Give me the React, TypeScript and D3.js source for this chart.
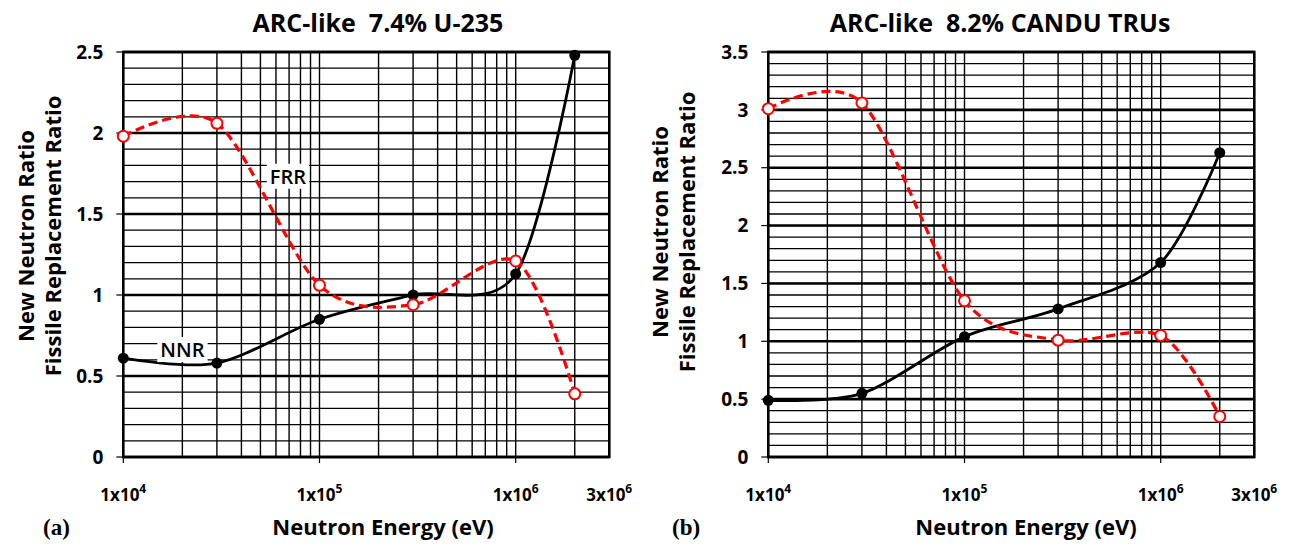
import React from "react";
import * as d3 from "d3";

// energies where the calculations were done (eV)
const energies = [1e4, 3e4, 1e5, 3e5, 1e6, 2e6];

// (a) ARC-like 7.4% U-235
const nnrU235 = [0.61, 0.58, 0.85, 1.0, 1.13, 2.48];
const frrU235 = [1.98, 2.06, 1.06, 0.94, 1.21, 0.39];

// (b) ARC-like 8.2% CANDU TRUs
const nnrTru = [0.49, 0.55, 1.04, 1.28, 1.68, 2.63];
const frrTru = [3.01, 3.06, 1.35, 1.01, 1.05, 0.35];

const xTickValues = [1e4, 1e5, 1e6, 3e6];
const xTickBases = ["1x10", "1x10", "1x10", "3x10"];
const xTickExps = ["4", "5", "6", "6"];

const yTicksU235 = [0, 0.5, 1, 1.5, 2, 2.5];
const yTicksTru = [0, 0.5, 1, 1.5, 2, 2.5, 3, 3.5];

const seriesLabels = ["FRR", "NNR"];
const labelEnergies = [6.9e4, 2e4];
const labelValues = [1.73, 0.66];

const FONT = "'Open Sans', 'Noto Sans', sans-serif";

function Panel({ title, nnr, frr, yTicks, tag, ox, titleX, xTitleX, yTitleY, yTitleX, tagX, showLabels }) {
    const ref = React.useRef(null);

    React.useEffect(() => {
        d3.select(ref.current).selectAll("*").remove();
        drawChart();
    });

    function drawChart() {
        const left = ox + 123.3;
        const right = ox + 609.3;
        const top = 52;
        const bottom = 457;
        const yMax = yTicks[yTicks.length - 1];

        const x = d3.scaleLog().domain([1e4, 3e6]).range([left, right]);
        const y = d3.scaleLinear().domain([0, yMax]).range([bottom, top]);

        const g = d3.select(ref.current);

        // minor grid
        g.selectAll("line.vgrid")
            .data(x.ticks())
            .enter()
            .append("line")
            .attr("x1", (d) => x(d))
            .attr("x2", (d) => x(d))
            .attr("y1", top)
            .attr("y2", bottom)
            .attr("stroke", "#000")
            .attr("stroke-width", 1.4);

        g.selectAll("line.hgrid")
            .data(y.ticks(Math.round(yMax * 10)))
            .enter()
            .append("line")
            .attr("x1", left)
            .attr("x2", right)
            .attr("y1", (d) => y(d))
            .attr("y2", (d) => y(d))
            .attr("stroke", "#000")
            .attr("stroke-width", 1.3);

        // major horizontal grid
        g.selectAll("line.hmajor")
            .data(yTicks)
            .enter()
            .append("line")
            .attr("x1", left)
            .attr("x2", right)
            .attr("y1", (d) => y(d))
            .attr("y2", (d) => y(d))
            .attr("stroke", "#000")
            .attr("stroke-width", 2.6);

        // frame
        g.append("rect")
            .attr("x", left)
            .attr("y", top)
            .attr("width", right - left)
            .attr("height", bottom - top)
            .attr("fill", "none")
            .attr("stroke", "#000")
            .attr("stroke-width", 2.6);

        // ticks
        g.selectAll("line.ytick")
            .data(yTicks)
            .enter()
            .append("line")
            .attr("x1", left - 7)
            .attr("x2", left)
            .attr("y1", (d) => y(d))
            .attr("y2", (d) => y(d))
            .attr("stroke", "#000")
            .attr("stroke-width", 1.2);

        g.selectAll("line.xtick")
            .data(xTickValues.slice(0, 3))
            .enter()
            .append("line")
            .attr("x1", (d) => x(d))
            .attr("x2", (d) => x(d))
            .attr("y1", bottom)
            .attr("y2", bottom + 6)
            .attr("stroke", "#000")
            .attr("stroke-width", 1.2);

        g.selectAll("text.ylab")
            .data(yTicks)
            .enter()
            .append("text")
            .attr("x", left - 20)
            .attr("y", (d) => y(d))
            .attr("dy", "0.35em")
            .attr("text-anchor", "end")
            .attr("font-family", FONT)
            .attr("font-weight", 700)
            .attr("font-size", 19)
            .text((d) => String(d));

        const xl = g
            .selectAll("text.xlab")
            .data(xTickValues)
            .enter()
            .append("text")
            .attr("x", (d) => x(d))
            .attr("y", 501)
            .attr("text-anchor", "middle")
            .attr("font-family", FONT)
            .attr("font-weight", 700)
            .attr("font-size", 17);
        xl.append("tspan").text((d, i) => xTickBases[i]);
        xl.append("tspan")
            .attr("dy", -8)
            .attr("font-size", 12)
            .text((d, i) => xTickExps[i]);

        // curves
        const pts = (vals) => energies.map((e, i) => [x(e), y(vals[i])]);
        const line = d3.line().curve(d3.curveCardinal.tension(0.1));

        g.append("path")
            .attr("d", line(pts(nnr)))
            .attr("fill", "none")
            .attr("stroke", "#000")
            .attr("stroke-width", 2.8);

        g.append("path")
            .attr("d", line(pts(frr)))
            .attr("fill", "none")
            .attr("stroke", "#ff0000")
            .attr("stroke-width", 3.2)
            .attr("stroke-dasharray", "9,5");

        g.selectAll("circle.nnr")
            .data(pts(nnr))
            .enter()
            .append("circle")
            .attr("cx", (d) => d[0])
            .attr("cy", (d) => d[1])
            .attr("r", 5.5)
            .attr("fill", "#000");

        g.selectAll("circle.frr")
            .data(pts(frr))
            .enter()
            .append("circle")
            .attr("cx", (d) => d[0])
            .attr("cy", (d) => d[1])
            .attr("r", 5.5)
            .attr("fill", "#fff")
            .attr("stroke", "#ff0000")
            .attr("stroke-width", 2);

        if (showLabels) {
            seriesLabels.forEach((s, i) => {
                const t = g
                    .append("text")
                    .attr("x", x(labelEnergies[i]))
                    .attr("y", y(labelValues[i]))
                    .attr("dy", "0.35em")
                    .attr("text-anchor", "middle")
                    .attr("font-family", FONT)
                    .attr("font-weight", 600)
                    .attr("font-size", 20)
                    .text(s);
                const bb = t.node().getBBox();
                g.insert("rect", () => t.node())
                    .attr("x", bb.x - 3)
                    .attr("y", bb.y + 1)
                    .attr("width", bb.width + 6)
                    .attr("height", bb.height - 2)
                    .attr("fill", "#fff");
            });
        }

        // titles
        g.append("text")
            .attr("x", titleX)
            .attr("y", 32)
            .attr("text-anchor", "middle")
            .attr("font-family", FONT)
            .attr("font-weight", 700)
            .attr("font-size", 25)
            .style("white-space", "pre")
            .text(title);

        g.append("text")
            .attr("x", xTitleX)
            .attr("y", 535)
            .attr("text-anchor", "middle")
            .attr("font-family", FONT)
            .attr("font-weight", 700)
            .attr("font-size", 22)
            .text("Neutron Energy (eV)");

        ["New Neutron Ratio", "Fissile Replacement Ratio"].forEach((s, i) => {
            g.append("text")
                .attr("transform", `translate(${yTitleX + i * 27},${yTitleY}) rotate(-90)`)
                .attr("text-anchor", "middle")
                .attr("font-family", FONT)
                .attr("font-weight", 700)
                .attr("font-size", 22)
                .text(s);
        });

        g.append("text")
            .attr("x", tagX)
            .attr("y", 535)
            .attr("font-family", "'Liberation Serif', 'DejaVu Serif', serif")
            .attr("font-weight", 700)
            .attr("font-size", 23)
            .text(tag);
    }

    return <g ref={ref} />;
}

export default function App() {
    return (
        <svg
            width={1290}
            height={544}
            style={{ position: "absolute", left: 0, top: 0, background: "#fff" }}
        >
            <Panel
                title="ARC-like  7.4% U-235"
                nnr={nnrU235}
                frr={frrU235}
                yTicks={yTicksU235}
                tag="(a)"
                ox={0}
                titleX={378}
                xTitleX={383}
                yTitleX={34}
                yTitleY={236}
                tagX={43}
                showLabels={true}
            />
            <Panel
                title="ARC-like  8.2% CANDU TRUs"
                nnr={nnrTru}
                frr={frrTru}
                yTicks={yTicksTru}
                tag="(b)"
                ox={645}
                titleX={1000}
                xTitleX={1026}
                yTitleX={668}
                yTitleY={232}
                tagX={672}
                showLabels={false}
            />
        </svg>
    );
}
